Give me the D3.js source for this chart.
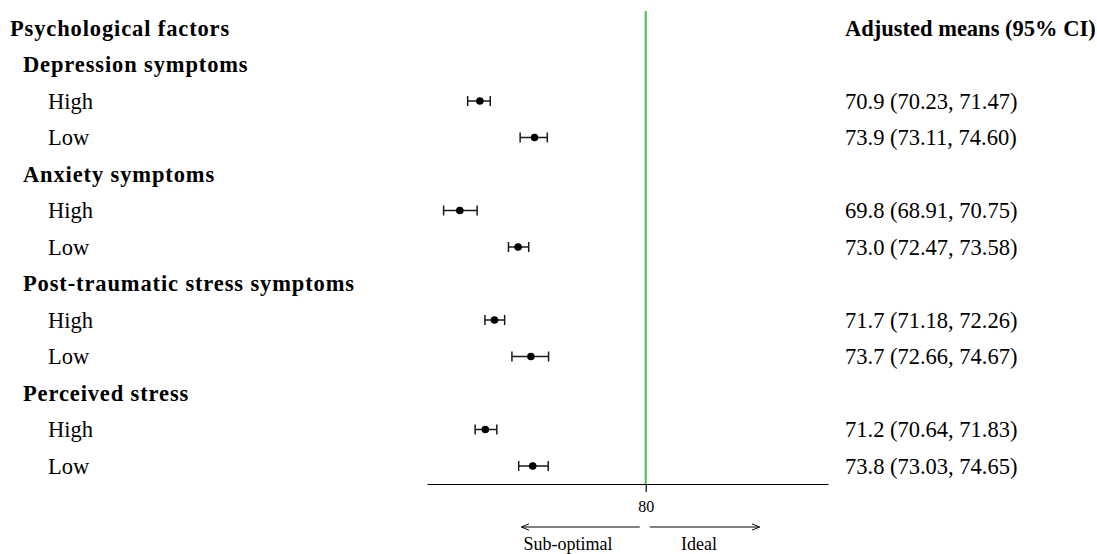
<!DOCTYPE html>
<html><head><meta charset="utf-8">
<script src="https://cdn.jsdelivr.net/npm/d3@7"></script>
<style>body{margin:0;background:#fff}svg{display:block}text{font-family:"Times New Roman","Liberation Serif",Tinos,"DejaVu Serif",serif !important;fill:#000}</style>
</head><body>
<svg id="c" width="1097" height="554"></svg>
<script>
const groups = ["Depression symptoms","Anxiety symptoms","Post-traumatic stress symptoms","Perceived stress"];
const levels = ["High","Low"];
const means = [70.9,73.9,69.8,73.0,71.7,73.7,71.2,73.8];
const lower = [70.23,73.11,68.91,72.47,71.18,72.66,70.64,73.03];
const upper = [71.47,74.60,70.75,73.58,72.26,74.67,71.83,74.65];
const xTicks = [80];
const refValue = 80;

const svg = d3.select("#c");
const x = d3.scaleLinear().domain([68,90]).range([427,828]);

const rows = [{label:"Psychological factors",type:"title"}];
groups.forEach((g,gi)=>{
  rows.push({label:g,type:"group"});
  levels.forEach((l,li)=>{
    const i=gi*2+li;
    rows.push({label:l,type:"item",m:means[i],lo:lower[i],hi:upper[i]});
  });
});
const y = d3.scalePoint().domain(d3.range(rows.length)).range([28,466]);

const fs = 22.5;
svg.selectAll("text.lab").data(rows).join("text").attr("class","lab")
  .attr("x",d=>d.type==="title"?10:d.type==="group"?23:48)
  .attr("y",(d,i)=>y(i)).attr("dy","0.35em")
  .style("font-size",fs+"px")
  .style("font-weight",d=>d.type==="item"?"normal":"bold")
  .style("letter-spacing",d=>d.type==="item"?null:"0.87px")
  .text(d=>d.label);

svg.append("text").attr("x",845).attr("y",y(0)).attr("dy","0.35em")
  .style("font-size",fs+"px").style("font-weight","bold").text("Adjusted means (95% CI)");

const items = rows.map((d,i)=>({...d,i})).filter(d=>d.type==="item");
svg.selectAll("text.val").data(items).join("text").attr("class","val")
  .attr("x",845).attr("y",d=>y(d.i)).attr("dy","0.35em").style("font-size",fs+"px")
  .text(d=>`${d.m.toFixed(1)} (${d.lo.toFixed(2)}, ${d.hi.toFixed(2)})`);

svg.append("line").attr("x1",x(refValue)).attr("x2",x(refValue)).attr("y1",11).attr("y2",484)
  .attr("stroke","#4cbb4c").attr("stroke-width",2);

const g = svg.append("g");
items.forEach(d=>{
  const yy=y(d.i);
  g.append("line").attr("x1",x(d.lo)).attr("x2",x(d.hi)).attr("y1",yy).attr("y2",yy).attr("stroke","#1a1a1a").attr("stroke-width",1.5);
  [d.lo,d.hi].forEach(v=>g.append("line").attr("x1",x(v)).attr("x2",x(v)).attr("y1",yy-5).attr("y2",yy+5).attr("stroke","#1a1a1a").attr("stroke-width",1.5));
  g.append("circle").attr("cx",x(d.m)).attr("cy",yy).attr("r",3.8).attr("fill","#000");
});

const ax = svg.append("g").attr("transform","translate(0,484)")
  .call(d3.axisBottom(x).tickValues(xTicks).tickSize(8).tickSizeOuter(0).tickFormat(d3.format("d")));
ax.attr("font-family",null);
ax.select(".domain").attr("stroke","#000").attr("stroke-width",1.2);
ax.selectAll(".tick line").attr("stroke","#000").attr("stroke-width",1.2);
ax.selectAll(".tick text").style("font-size","16px").attr("y",17).attr("fill","#000");

const defs = svg.append("defs");
defs.append("marker").attr("id","ah").attr("viewBox","0 0 10 10").attr("refX",9).attr("refY",5)
  .attr("markerWidth",8).attr("markerHeight",8).attr("orient","auto-start-reverse").attr("markerUnits","userSpaceOnUse")
  .append("path").attr("d","M0,1 L10,5 L0,9").attr("fill","none").attr("stroke","#000").attr("stroke-width",1.2);
svg.append("line").attr("x1",x(refValue)-6).attr("x2",522).attr("y1",527).attr("y2",527)
  .attr("stroke","#000").attr("stroke-width",1.1).attr("marker-end","url(#ah)");
svg.append("line").attr("x1",x(refValue)+4).attr("x2",759).attr("y1",527).attr("y2",527)
  .attr("stroke","#000").attr("stroke-width",1.1).attr("marker-end","url(#ah)");
svg.append("text").attr("x",568).attr("y",550).attr("text-anchor","middle").style("font-size","18px").text("Sub-optimal");
svg.append("text").attr("x",699).attr("y",550).attr("text-anchor","middle").style("font-size","18px").text("Ideal");
</script>
</body></html>
